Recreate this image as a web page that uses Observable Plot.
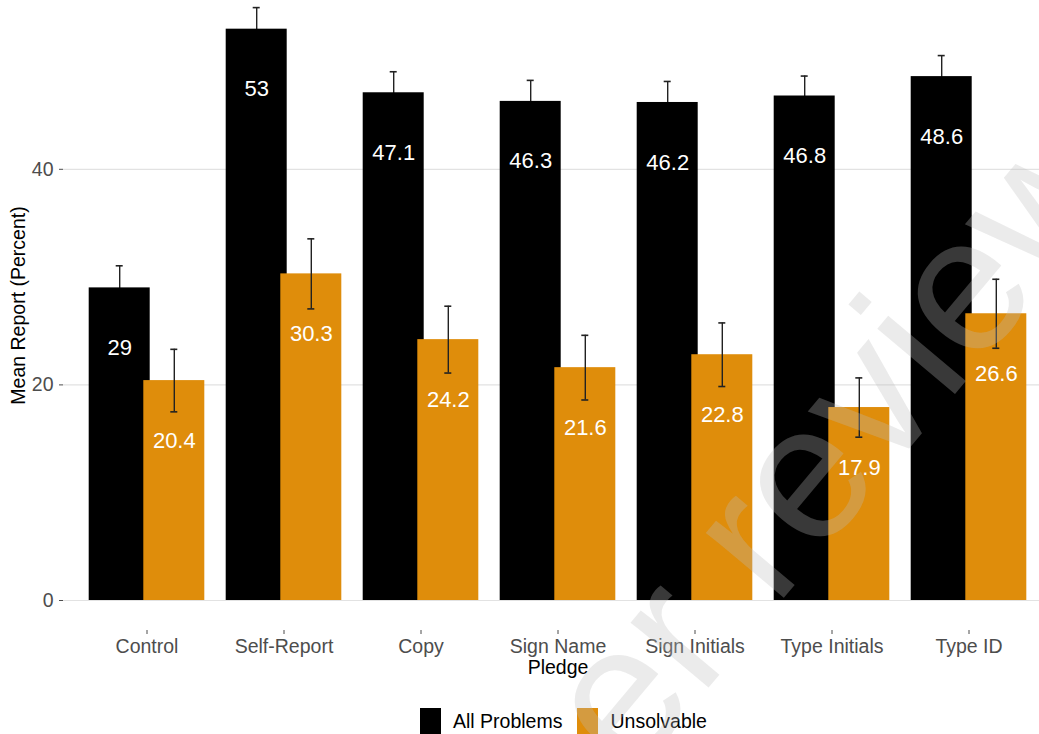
<!DOCTYPE html>
<html>
<head>
<meta charset="utf-8">
<script src="https://cdn.jsdelivr.net/npm/d3@7"></script>
<script src="https://cdn.jsdelivr.net/npm/@observablehq/plot@0.6"></script>
<style>
  html, body { margin: 0; padding: 0; background: #fff; }
  #wrap { position: relative; width: 1039px; height: 734px; overflow: hidden;
          font-family: "Liberation Sans", Arial, Helvetica, sans-serif; }
  #legend { position: absolute; left: 420px; top: 708px; display: flex; align-items: flex-start;
            font-size: 19.5px; color: #000; }
  #legend .key { width: 21px; height: 26px; }
  #legend .lab { line-height: 26px; margin-left: 12px; margin-right: 15px; white-space: nowrap; }
  #wm { position: absolute; left: 0; top: 0; pointer-events: none; }
</style>
</head>
<body>
<div id="wrap">
  <div id="chart"></div>
  <div id="legend"></div>
</div>
<script>
// ---- data ----
const pledges = ["Control", "Self-Report", "Copy", "Sign Name", "Sign Initials", "Type Initials", "Type ID"];
const allProblems   = [29, 53, 47.1, 46.3, 46.2, 46.8, 48.6];
const unsolvable    = [20.4, 30.3, 24.2, 21.6, 22.8, 17.9, 26.6];
const allProblemsSE = [2.05, 2.0, 1.95, 1.95, 1.95, 1.85, 1.95];
const unsolvableSE  = [2.9, 3.25, 3.1, 3.0, 2.95, 2.75, 3.2];
const seriesNames   = ["All Problems", "Unsolvable"];
const seriesColors  = ["#000000", "#DF8D0B"];
const yTicks        = [0, 20, 40];
const xTitle        = "Pledge";
const yTitle        = "Mean Report (Percent)";
const watermarkText = "Peer review";

// ---- build rows ----
const rowsA = pledges.map((p, i) => ({pledge: p, series: seriesNames[0], value: allProblems[i], se: allProblemsSE[i]}));
const rowsU = pledges.map((p, i) => ({pledge: p, series: seriesNames[1], value: unsolvable[i], se: unsolvableSE[i]}));

const OFF = 27.3;        // dodge offset (px)
const ERR = "#222";
const FONT = "Liberation Sans, Arial, sans-serif";

function errorBars(data, dx) {
  return [
    Plot.ruleX(data, {x: "pledge", y1: d => d.value - d.se, y2: d => d.value + d.se, dx, stroke: ERR, strokeWidth: 1.4}),
    Plot.tickY(data, {x: "pledge", y: d => d.value + d.se, dx, insetLeft: 27, insetRight: 27, stroke: ERR, strokeWidth: 1.6}),
    Plot.tickY(data, {x: "pledge", y: d => d.value - d.se, dx, insetLeft: 27, insetRight: 27, stroke: ERR, strokeWidth: 1.6})
  ];
}
function labels(data, dx) {
  return Plot.text(data, {x: "pledge", y: "value", dx, dy: 60, text: d => String(d.value),
                          fill: "white", fontSize: 22, fontFamily: FONT});
}

const chart = Plot.plot({
  width: 1039,
  height: 690,
  marginLeft: 63,
  marginRight: 0,
  marginTop: 0,
  marginBottom: 60,
  style: {fontFamily: FONT, background: "white", overflow: "visible"},
  x: {type: "band", domain: pledges, range: [63.7, 1051.5], paddingInner: 0.552, paddingOuter: 0.376, label: null},
  y: {domain: [0, 55.66], range: [600, 0], label: null},
  marks: [
    Plot.gridY(yTicks, {stroke: "#e2e2e2", strokeOpacity: 1, strokeWidth: 1.2}),
    Plot.axisY(yTicks, {tickSize: 4, tickPadding: 6, fontSize: 19.5, color: "#4d4d4d", label: null}),
    Plot.axisX({tickSize: 4, tickPadding: 5, fontSize: 19.5, color: "#4d4d4d", label: null}),
    ...errorBars(rowsA, -OFF),
    Plot.barY(rowsA, {x: "pledge", y: "value", dx: -OFF, fill: seriesColors[0]}),
    Plot.barY(rowsU, {x: "pledge", y: "value", dx: OFF, fill: seriesColors[1]}),
    ...errorBars(rowsU, OFF),
    labels(rowsA, -OFF),
    labels(rowsU, OFF),
    Plot.text([xTitle], {x: () => pledges[Math.floor(pledges.length / 2)], frameAnchor: "bottom", dy: 43,
                         fontSize: 19.5, fill: "#000", fontFamily: FONT}),
    Plot.text([yTitle], {frameAnchor: "left", rotate: -90, dx: -45, dy: -10, textAnchor: "middle",
                         fontSize: 19.5, fill: "#000", fontFamily: FONT})
  ]
});
document.getElementById("chart").appendChild(chart);

// ---- legend ----
const legend = document.getElementById("legend");
seriesNames.forEach((name, i) => {
  const k = document.createElement("div");
  k.className = "key";
  k.style.background = seriesColors[i];
  const t = document.createElement("div");
  t.className = "lab";
  t.textContent = name;
  legend.appendChild(k);
  legend.appendChild(t);
});

// ---- watermark overlay ----
const ns = "http://www.w3.org/2000/svg";
const wm = document.createElementNS(ns, "svg");
wm.setAttribute("id", "wm");
wm.setAttribute("width", 1039);
wm.setAttribute("height", 734);
const wt = document.createElementNS(ns, "text");
wt.setAttribute("transform", "translate(757,552) rotate(-50)");
wt.setAttribute("x", -490);
wt.setAttribute("y", 50);
wt.setAttribute("font-size", 192);
wt.setAttribute("font-family", FONT);
wt.setAttribute("fill", "rgb(190,190,190)");
wt.setAttribute("fill-opacity", 0.3);
wt.textContent = watermarkText;
wm.appendChild(wt);
document.getElementById("wrap").appendChild(wm);
</script>
</body>
</html>
